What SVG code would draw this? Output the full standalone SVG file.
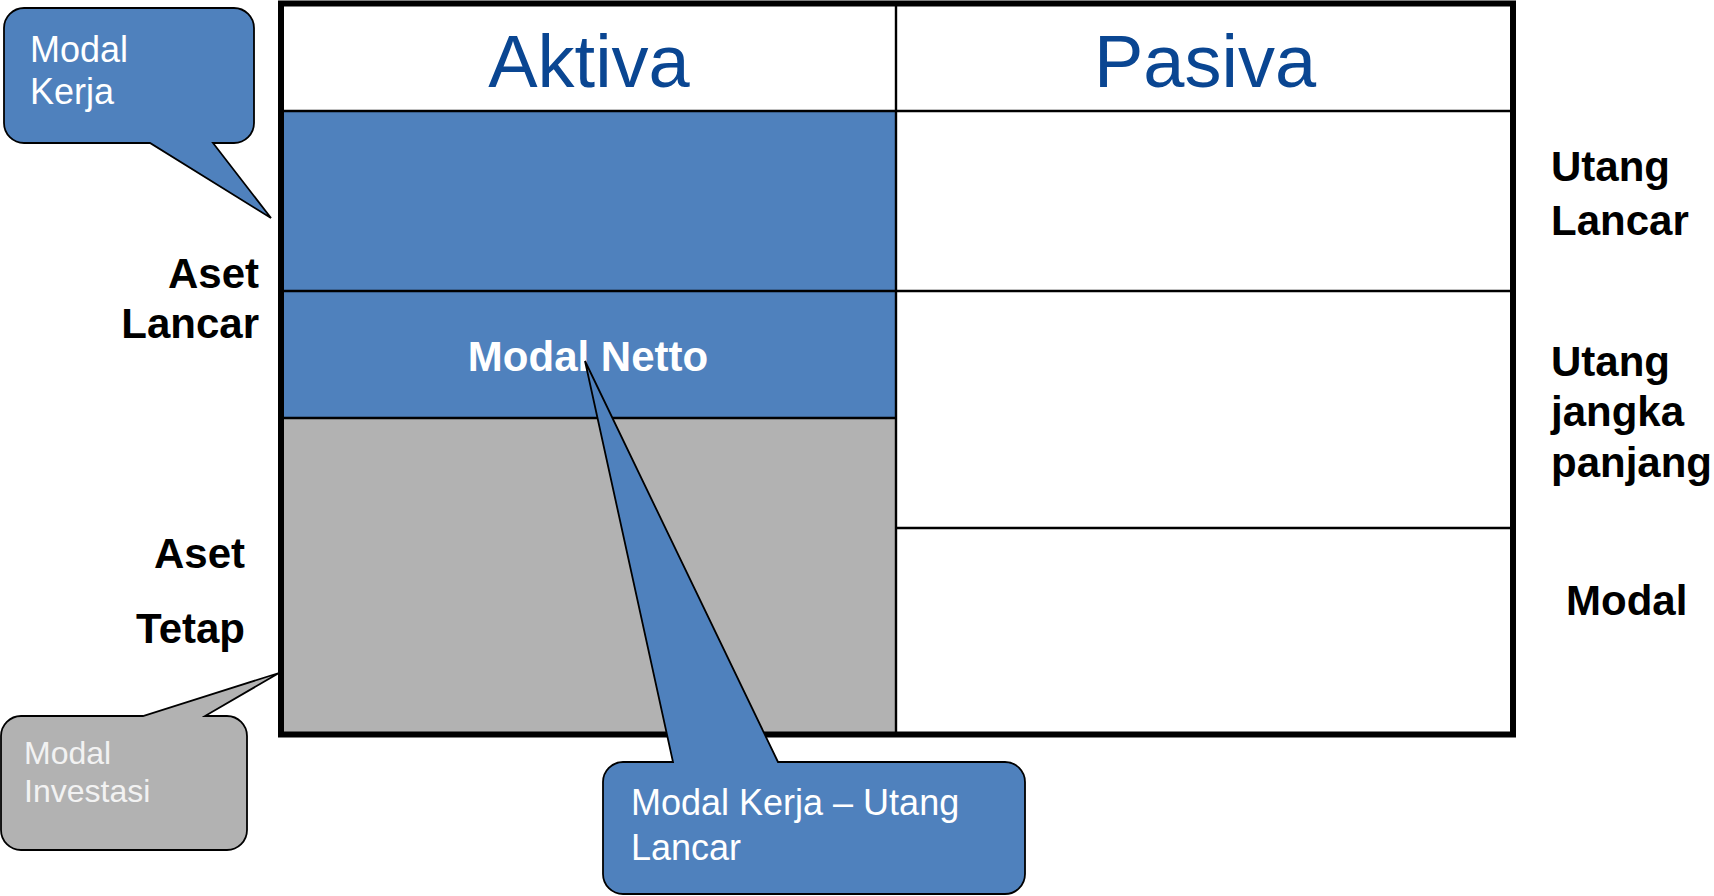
<svg xmlns="http://www.w3.org/2000/svg" width="1714" height="896" viewBox="0 0 1714 896">
<style>
.lbl{font-family:"Liberation Sans",Arial,sans-serif;font-weight:bold;font-size:42px;fill:#000}
.hdr{font-family:"Liberation Sans",Arial,sans-serif;font-size:74px;fill:#0A4692;text-anchor:middle}
.ct{font-family:"Liberation Sans",Arial,sans-serif;fill:#fff}
.callout{stroke:#000;stroke-width:1.8;stroke-linejoin:miter}
.grid{stroke:#000;stroke-width:2.4;fill:none}
</style>
<rect width="1714" height="896" fill="#fff"/>
<g id="table">
  <rect x="281" y="111" width="615" height="180" fill="#4F81BD"/>
  <rect x="281" y="291" width="615" height="127" fill="#4F81BD"/>
  <rect x="281" y="418" width="615" height="316" fill="#B2B2B2"/>
  <line class="grid" x1="281" y1="111" x2="1513" y2="111"/>
  <line class="grid" x1="281" y1="291" x2="1513" y2="291"/>
  <line class="grid" x1="281" y1="418" x2="896" y2="418"/>
  <line class="grid" x1="896" y1="528" x2="1513" y2="528"/>
  <line class="grid" x1="896" y1="3" x2="896" y2="734"/>
  <rect x="281" y="3.5" width="1232" height="731" fill="none" stroke="#000" stroke-width="6"/>
  <text class="hdr" x="589" y="87">Aktiva</text>
  <text class="hdr" x="1205" y="87">Pasiva</text>
  <text class="lbl" x="588" y="371" text-anchor="middle" style="fill:#fff">Modal Netto</text>
</g>
<g id="labels-left">
  <text class="lbl" x="259" y="288" text-anchor="end">Aset</text>
  <text class="lbl" x="259" y="338" text-anchor="end">Lancar</text>
  <text class="lbl" x="245" y="568" text-anchor="end">Aset</text>
  <text class="lbl" x="245" y="643" text-anchor="end">Tetap</text>
</g>
<g id="labels-right">
  <text class="lbl" x="1551" y="181">Utang</text>
  <text class="lbl" x="1551" y="235">Lancar</text>
  <text class="lbl" x="1551" y="376">Utang</text>
  <text class="lbl" x="1551" y="426">jangka</text>
  <text class="lbl" x="1551" y="477">panjang</text>
  <text class="lbl" x="1566" y="615">Modal</text>
</g>
<g id="callout-modal-kerja">
  <path class="callout" fill="#4F81BD" d="M24,8 H234 A20,20 0 0 1 254,28 V123 A20,20 0 0 1 234,143 H213 L271,218 L150,143 H24 A20,20 0 0 1 4,123 V28 A20,20 0 0 1 24,8 Z"/>
  <text class="ct" x="30" y="62" font-size="36">Modal</text>
  <text class="ct" x="30" y="104" font-size="36">Kerja</text>
</g>
<g id="callout-modal-investasi">
  <path class="callout" fill="#B2B2B2" d="M21,716 H143 L279,673 L205,716 H227 A20,20 0 0 1 247,736 V830 A20,20 0 0 1 227,850 H21 A20,20 0 0 1 1,830 V736 A20,20 0 0 1 21,716 Z"/>
  <text class="ct" x="24" y="764" font-size="32" style="fill:#F2F2F2">Modal</text>
  <text class="ct" x="24" y="802" font-size="32" style="fill:#F2F2F2">Investasi</text>
</g>
<g id="callout-modal-kerja-utang">
  <path class="callout" fill="#4F81BD" d="M623,762 H673 L585,361 L778,762 H1005 A20,20 0 0 1 1025,782 V874 A20,20 0 0 1 1005,894 H623 A20,20 0 0 1 603,874 V782 A20,20 0 0 1 623,762 Z"/>
  <text class="ct" x="631" y="815" font-size="36">Modal Kerja – Utang</text>
  <text class="ct" x="631" y="860" font-size="36">Lancar</text>
</g>
<g id="connectors"></g>
</svg>
